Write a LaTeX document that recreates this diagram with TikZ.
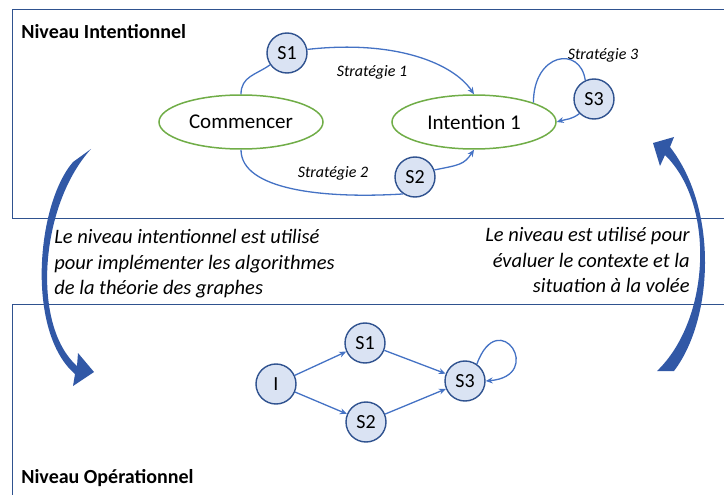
\documentclass[tikz,border=0pt]{standalone}
\usepackage{fontspec}
\setmainfont{Carlito}
\usetikzlibrary{arrows.meta,positioning,calc,shapes.geometric}
\definecolor{cadre}{RGB}{47,82,143}
\definecolor{fleche}{RGB}{68,114,196}
\definecolor{etatfond}{RGB}{218,227,243}
\definecolor{vert}{RGB}{112,173,71}
\definecolor{grandefleche}{RGB}{49,88,166}
\tikzset{every picture/.style={line width=0.75pt}}

\begin{document}
\begin{tikzpicture}[x=1pt, y=-1pt, >={Stealth[length=7pt,width=6pt]},
    etat/.style={circle, draw=cadre, fill=etatfond, line width=1.4pt, minimum size=40pt, inner sep=0pt, font=\fontsize{20}{24}\selectfont},
    but/.style={ellipse, draw=vert, fill=white, line width=1.5pt, minimum width=164pt, minimum height=54pt, inner sep=0pt, font=\fontsize{21}{25}\selectfont},
    lien/.style={fleche, line width=1.3pt},
    strat/.style={font=\fontsize{16}{19}\selectfont\itshape},
    niveau/.style={anchor=west, inner sep=0pt, font=\fontsize{20}{24}\selectfont\bfseries},
    texte/.style={inner sep=0pt, font=\fontsize{20.5}{25.5}\selectfont\itshape}]
    \useasboundingbox (0,0) rectangle (724,495);

    % cadres
    \draw[cadre, line width=1pt] (724,10) -- (12,10) -- (12,218) -- (724,218);
    \draw[cadre, line width=1pt] (724,304) -- (12,304) -- (12,495);
    \node[niveau] (ni) at (21,32) {Niveau Intentionnel};
    \node[niveau] (no) at (21,478) {Niveau Opérationnel};

    % niveau intentionnel
    \node[but] (commencer) at (241,122) {Commencer};
    \node[but] (intention) at (474,122) {Intention 1};
    \node[etat] (s1) at (287,53) {S1};
    \node[etat] (s2) at (415,177) {S2};
    \node[etat] (s3) at (594,99) {S3};
    \node[strat] (st1) at (372,72) {Stratégie 1};
    \node[strat] (st2) at (333,173) {Stratégie 2};
    \node[strat] (st3) at (603,55) {Stratégie 3};

    \draw[lien] (commencer.north) .. controls +(0,-18) and +(-14,10) .. (s1.215);
    \draw[lien, ->] (s1.10) .. controls +(90,-10) and +(-20,-30) .. (intention.north);
    \draw[lien] (commencer.south) .. controls +(0,40) and +(-80,5) .. (s2.235);
    \draw[lien, ->] (s2.20) .. controls +(25,-5) and +(-10,15) .. (intention.south);
    \draw[lien] (intention.18) .. controls +(0,-50) and +(-5,-35) .. (s3.115);
    \draw[lien, ->] (s3.225) .. controls +(-8,6) and +(10,-3) .. (intention.east);

    % textes
    \node[texte, anchor=north west, align=left] (gauche) at (54,229) {Le niveau intentionnel est utilisé\\pour implémenter les algorithmes\\de la théorie des graphes};
    \node[texte, anchor=north east, align=right] (droite) at (690,227) {Le niveau est utilisé pour\\évaluer le contexte et la\\situation à la volée};

    % niveau opérationnel
    \node[etat] (i) at (276,384) {I};
    \node[etat] (b1) at (365,343) {S1};
    \node[etat] (b2) at (366,422) {S2};
    \node[etat] (b3) at (465,381) {S3};
    \foreach \a/\b in {i/b1, i/b2, b1/b3, b2/b3}
        \draw[lien, ->] (\a) -- (\b);
    \draw[lien, ->] (b3.55) .. controls +(22,-60) and +(60,-5) .. (b3.east);

    % grandes fleches
    \fill[grandefleche] (73,162) .. controls (36,205) and (26,332) .. (75,374) -- (73,386) -- (94,372) -- (78,353) -- (77,366) .. controls (31,325) and (40,205) .. (91,149) -- cycle;
    \fill[grandefleche] (657,371) -- (674,371) .. controls (713,320) and (719,210) .. (670,147) -- (674,137) -- (653,143) -- (660,166) -- (665,155) .. controls (716,205) and (710,320) .. (657,371) -- cycle;
\end{tikzpicture}
\end{document}
